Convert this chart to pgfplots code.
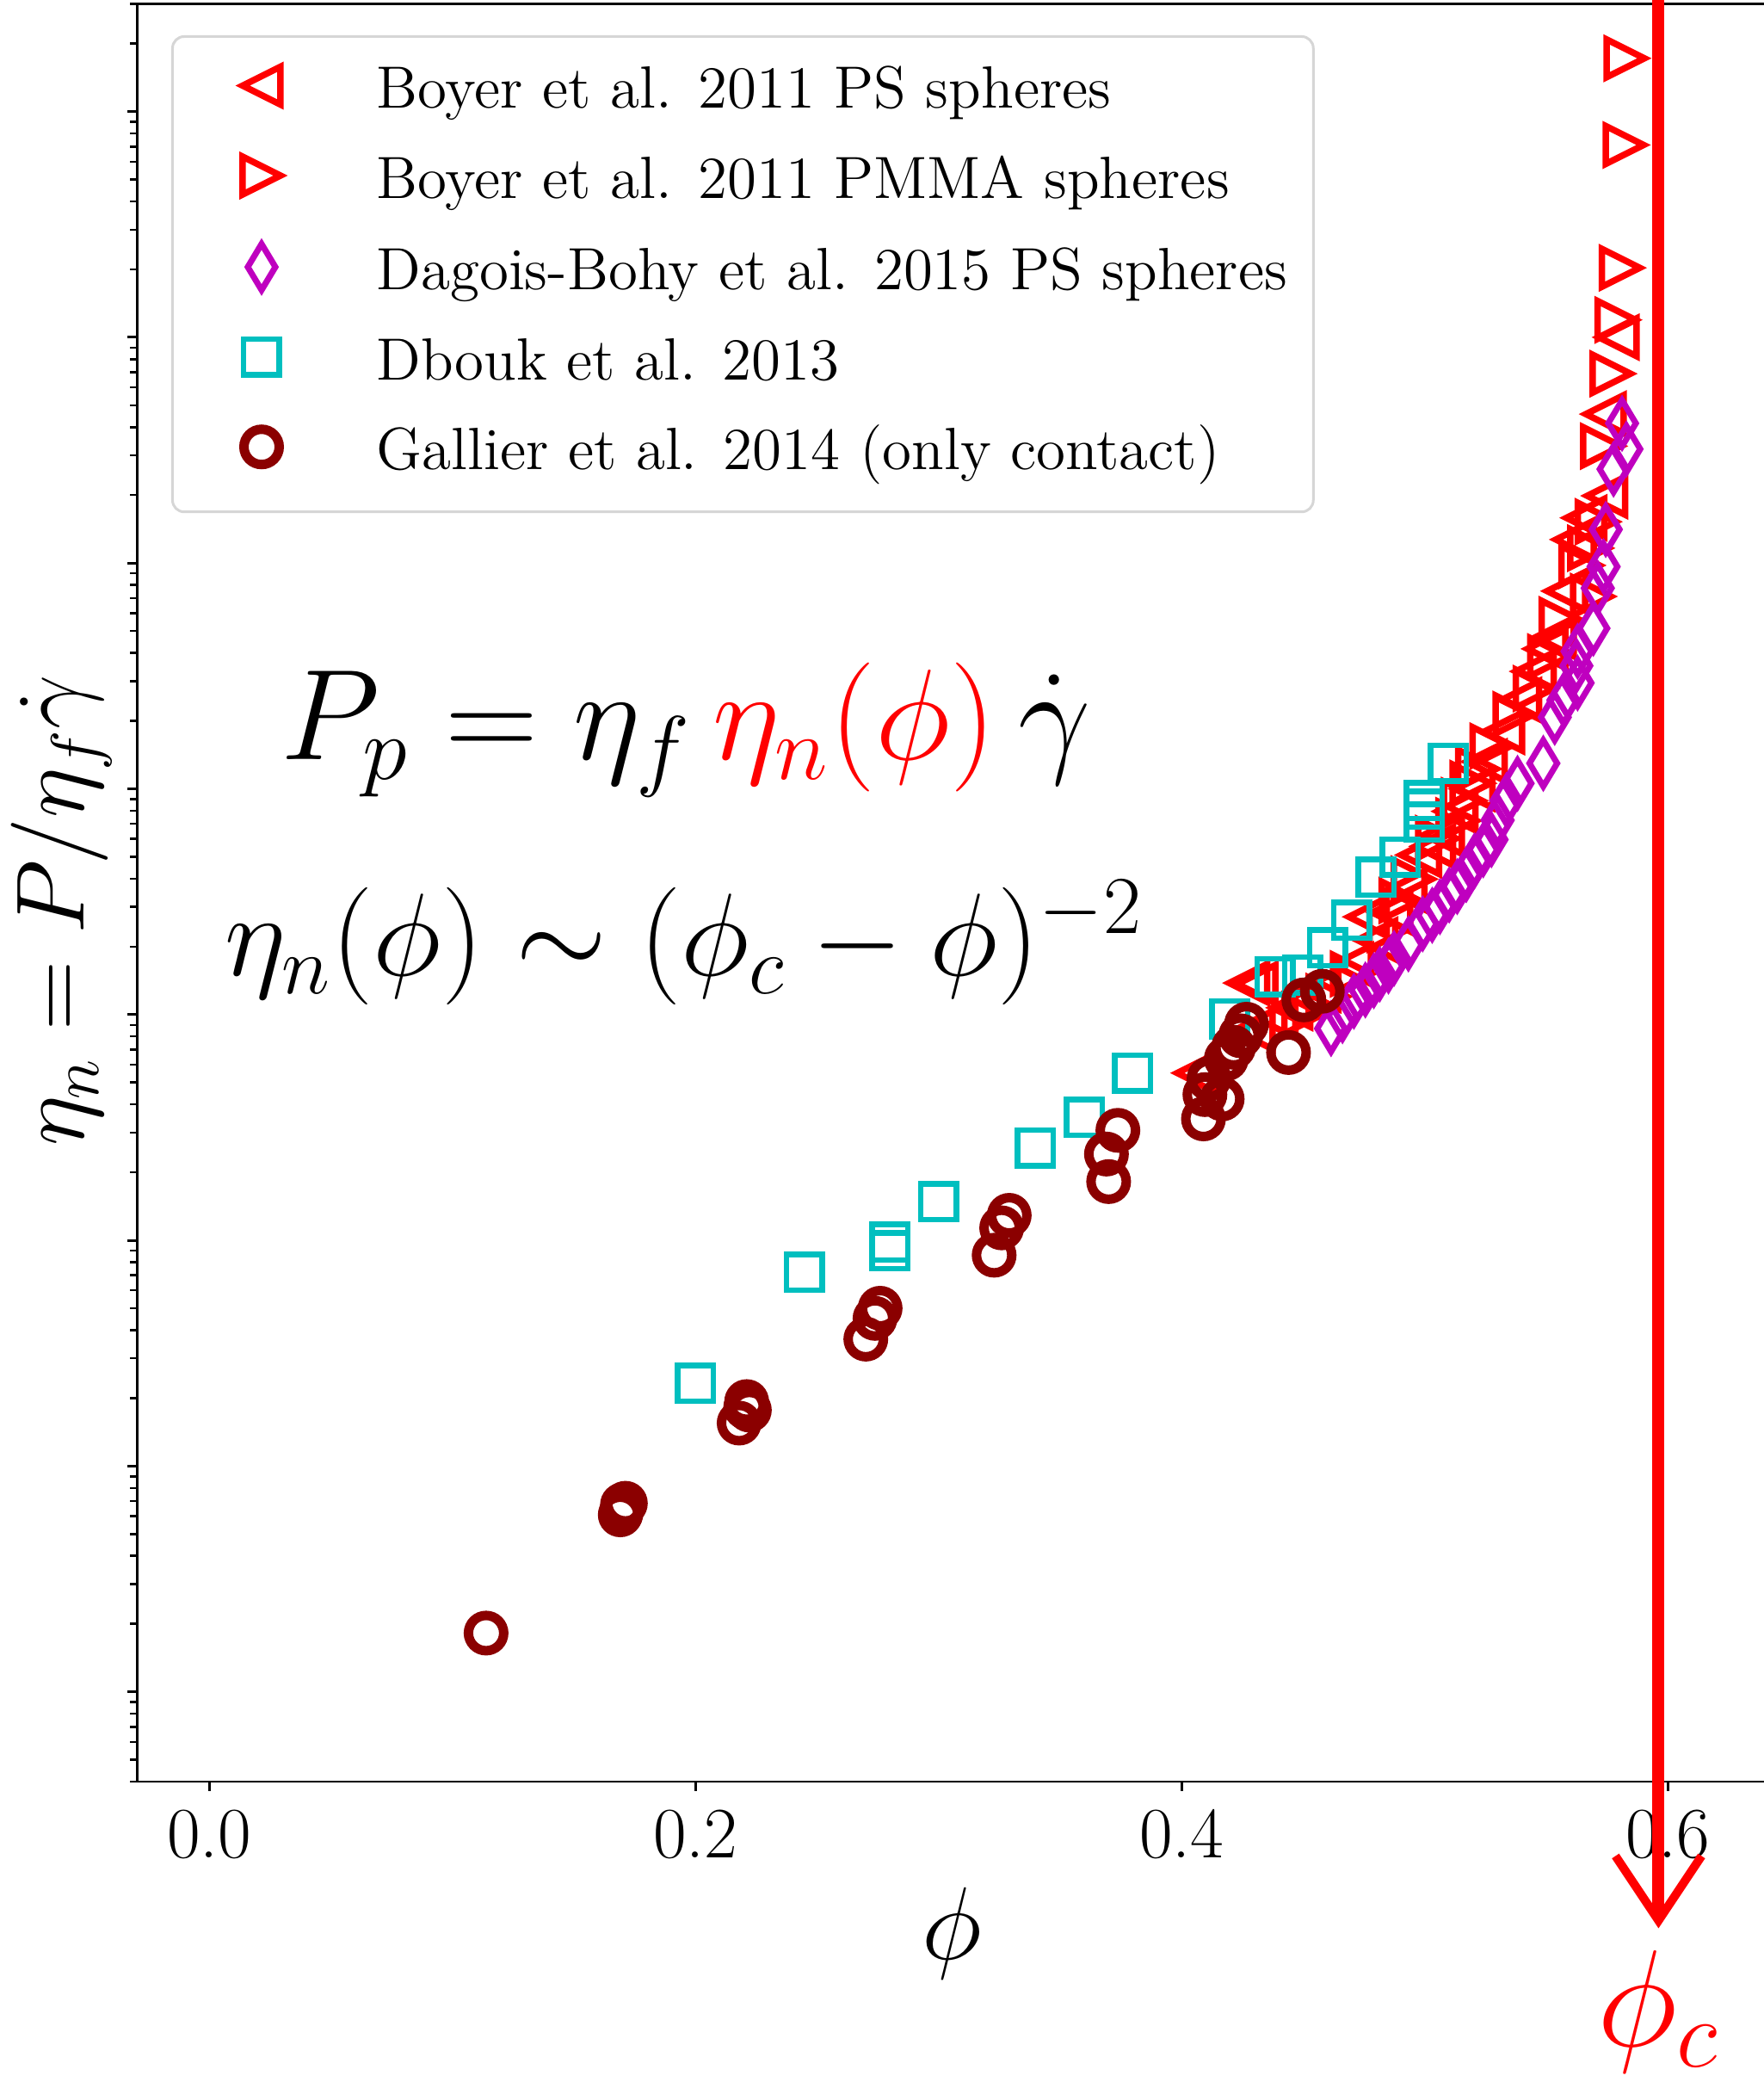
\RequirePackage{fix-cm}
\documentclass[border=0pt]{standalone}
\usepackage{pgfplots}
\pgfplotsset{compat=1.18}
\usetikzlibrary{arrows.meta}

\definecolor{mplred}{HTML}{FF0000}
\definecolor{mplmag}{HTML}{BF00BF}
\definecolor{mplcyan}{HTML}{00BFBF}
\definecolor{mpldark}{HTML}{8B0000}
\definecolor{legframe}{HTML}{D6D6D6}

% matplotlib-like open markers
\pgfdeclareplotmark{tleft}{%
  \pgfpathmoveto{\pgfqpoint{-\pgfplotmarksize}{0pt}}%
  \pgfpathlineto{\pgfqpoint{\pgfplotmarksize}{\pgfplotmarksize}}%
  \pgfpathlineto{\pgfqpoint{\pgfplotmarksize}{-\pgfplotmarksize}}%
  \pgfpathclose\pgfusepathqstroke}
\pgfdeclareplotmark{tright}{%
  \pgfpathmoveto{\pgfqpoint{\pgfplotmarksize}{0pt}}%
  \pgfpathlineto{\pgfqpoint{-\pgfplotmarksize}{\pgfplotmarksize}}%
  \pgfpathlineto{\pgfqpoint{-\pgfplotmarksize}{-\pgfplotmarksize}}%
  \pgfpathclose\pgfusepathqstroke}
\pgfdeclareplotmark{thind}{%
  \pgfpathmoveto{\pgfqpoint{0pt}{\pgfplotmarksize}}%
  \pgfpathlineto{\pgfqpoint{0.6\pgfplotmarksize}{0pt}}%
  \pgfpathlineto{\pgfqpoint{0pt}{-\pgfplotmarksize}}%
  \pgfpathlineto{\pgfqpoint{-0.6\pgfplotmarksize}{0pt}}%
  \pgfpathclose\pgfusepathqstroke}

\begin{document}
\begin{tikzpicture}
\begin{axis}[
  name=ax,
  scale only axis,
  width=378.66pt, height=413.1pt,
  xmin=-0.0297, xmax=0.6405,
  ymode=log, ymin=4e-4, ymax=3e4,
  xtick={0,0.2,0.4,0.6}, xticklabels={0.0,0.2,0.4,0.6},
  ytick={1e-3,1e-2,1e-1,1,10,100,1000,10000},
  minor ytick={4e-4,5e-4,6e-4,7e-4,8e-4,9e-4,
    2e-3,3e-3,4e-3,5e-3,6e-3,7e-3,8e-3,9e-3,
    2e-2,3e-2,4e-2,5e-2,6e-2,7e-2,8e-2,9e-2,
    0.2,0.3,0.4,0.5,0.6,0.7,0.8,0.9,
    2,3,4,5,6,7,8,9,
    20,30,40,50,60,70,80,90,
    200,300,400,500,600,700,800,900,
    2000,3000,4000,5000,6000,7000,8000,9000,
    20000,30000},
  yticklabel=\empty,
  tick pos=left, tick align=outside,
  major tick length=2.2pt, minor tick length=1.6pt,
  major tick style={line width=0.6pt, black},
  minor tick style={line width=0.5pt, black},
  axis line style={line width=0.55pt},
  xticklabel style={font=\fontsize{16.8}{20}\selectfont, anchor=base, yshift=-15.5pt},
  xlabel={$\phi$},
  ylabel={$\eta_n = P/\eta_f\dot{\gamma}$},
  every axis x label/.style={at={(rel axis cs:0.5,-0.09973)}, anchor=base,
    font=\fontsize{24}{29}\selectfont},
  every axis y label/.style={at={(rel axis cs:-0.0467,0.49)}, anchor=center, rotate=90,
    font=\fontsize{22.5}{27}\selectfont},
  legend style={
    at={(rel axis cs:0.02086,0.98233)}, anchor=north west,
    draw=legframe, line width=0.6pt, rounded corners=2.7pt, fill=white,
    font=\fontsize{13.85}{16}\selectfont,
    inner xsep=6pt, inner ysep=6.4pt,
    row sep=7.2pt, column sep=12pt,
    nodes={inner sep=0pt, text height=10.3pt, text depth=3.4pt},
  },
  legend cell align=left,
  legend image code/.code={\path (-13.6pt,0pt) (13.6pt,0pt);
    \draw[sharp corners, #1, only marks] plot coordinates {(0pt,1.85pt)};},
  clip=false,
]

% Boyer et al. 2011, PS spheres
\addplot[only marks, mark=tleft, mark size=4.4pt, color=mplred, line width=1.5pt] coordinates {
(0.4059,0.551) (0.4273,1.380) (0.4295,0.853) (0.4307,1.365) (0.4389,0.959)
(0.4450,1.072) (0.4566,1.285) (0.4700,1.660) (0.4765,2.710) (0.4800,2.138)
(0.4862,2.831) (0.4920,3.548) (0.4980,5.093) (0.5038,5.559) (0.5074,6.252)
(0.5130,7.943) (0.5200,10.00) (0.5250,13.18) (0.5322,17.91) (0.5392,24.72)
(0.5452,33.11) (0.5500,41.69) (0.5534,46.99) (0.5581,75.16) (0.5617,127.1)
(0.5660,158.5) (0.5746,198.6) (0.5740,457.0) (0.5793,1000)
};
\addlegendentry{Boyer et al. 2011 PS spheres}

% Boyer et al. 2011, PMMA spheres
\addplot[only marks, mark=tright, mark size=4.4pt, color=mplred, line width=1.5pt] coordinates {
(0.4500,1.000) (0.4600,1.202) (0.4700,1.514) (0.4850,2.377) (0.4900,3.200)
(0.4950,3.981) (0.5050,6.026) (0.5133,7.228) (0.5156,8.872) (0.5192,10.57)
(0.5215,12.25) (0.5274,15.45) (0.5369,21.33) (0.5452,27.80) (0.5511,38.37)
(0.5558,56.10) (0.5640,97.72) (0.5676,116.4) (0.5687,71.12) (0.5707,152.4)
(0.5729,329.6) (0.5768,690.2) (0.5788,1194) (0.5806,2032) (0.5822,7112)
(0.5825,17220)
};
\addlegendentry{Boyer et al. 2011 PMMA spheres}

% Dagois-Bohy et al. 2015
\addplot[only marks, mark=thind, mark size=5.35pt, color=mplmag, line width=1.4pt] coordinates {
(0.4614,0.867) (0.4661,0.989) (0.4708,1.146) (0.4755,1.285) (0.4790,1.413)
(0.4814,1.510) (0.4850,1.641) (0.4873,1.774) (0.4932,2.056) (0.4991,2.523)
(0.5030,2.754) (0.5062,3.006) (0.5100,3.388) (0.5133,3.690) (0.5170,4.169)
(0.5204,4.797) (0.5240,5.370) (0.5274,5.957) (0.5299,7.261) (0.5335,8.872)
(0.5381,10.57) (0.5487,12.97) (0.5534,20.75) (0.5570,24.72) (0.5623,35.08)
(0.5628,29.44) (0.5628,40.64) (0.5693,51.40) (0.5711,77.45) (0.5735,96.38)
(0.5744,140.9) (0.5776,260.6) (0.5811,415.9) (0.5829,319.9)
};
\addlegendentry{Dagois-Bohy et al. 2015 PS spheres}

% Dbouk et al. 2013
\addplot[only marks, mark=square, mark size=4.15pt, color=mplcyan, line width=1.3pt] coordinates {
(0.2000,0.0232) (0.2448,0.0721) (0.2799,0.0980) (0.2799,0.0897) (0.3000,0.148)
(0.3398,0.256) (0.3599,0.350) (0.3798,0.550) (0.4198,0.959) (0.4384,1.469)
(0.4496,1.496) (0.4600,1.977) (0.4699,2.612) (0.4800,4.064) (0.4899,4.989)
(0.4998,7.129) (0.4998,8.128) (0.4998,8.872) (0.5097,12.97)
};
\addlegendentry{Dbouk et al. 2013}

% Gallier et al. 2014, contact only
\addplot[only marks, mark=o, mark size=4.1pt, color=mpldark, line width=2.2pt] coordinates {
(0.1138,0.00182) (0.1690,0.00608) (0.1693,0.00617) (0.1699,0.00673) (0.1711,0.00684)
(0.2179,0.0155) (0.2206,0.0182) (0.2210,0.0193) (0.2221,0.0177)
(0.2700,0.0365) (0.2738,0.0451) (0.2759,0.0500)
(0.3228,0.0859) (0.3259,0.1135) (0.3290,0.129)
(0.3690,0.241) (0.3699,0.182) (0.3737,0.307)
(0.4089,0.345) (0.4095,0.442) (0.4166,0.423) (0.4112,0.520) (0.4183,0.637)
(0.4213,0.716) (0.4242,0.805) (0.4266,0.906) (0.4439,0.679) (0.4502,1.161)
(0.4578,1.268)
};
\addlegendentry{Gallier et al. 2014 (only contact)}

\node[anchor=base, font=\fontsize{30}{36}\selectfont] at (rel axis cs:0.3367,0.5747)
  {$P_p = \eta_f\,{\color{mplred}\eta_n(\phi)}\,\dot{\gamma}$};
\node[anchor=base, font=\fontsize{27.3}{32}\selectfont] at (rel axis cs:0.3356,0.4532)
  {$\eta_n(\phi) \sim (\phi_c - \phi)^{-2}$};

\coordinate (ctop) at (rel axis cs:0.93375,1.02);
\coordinate (cbot) at (rel axis cs:0.93375,-0.0825);
\coordinate (clab) at (rel axis cs:0.93375,-0.14863);
\end{axis}

\draw[mplred, line width=2.8pt, -{Straight Barb[length=15pt,width=20pt,line width=2pt]}] (ctop) -- (cbot);
\node[anchor=base, text=mplred, font=\fontsize{32}{38}\selectfont] at (clab) {$\phi_c$};

\pgfresetboundingbox
\path[use as bounding box] (-31.9pt,-69.8pt) rectangle (377.9pt,414.0pt);
\end{tikzpicture}
\end{document}
